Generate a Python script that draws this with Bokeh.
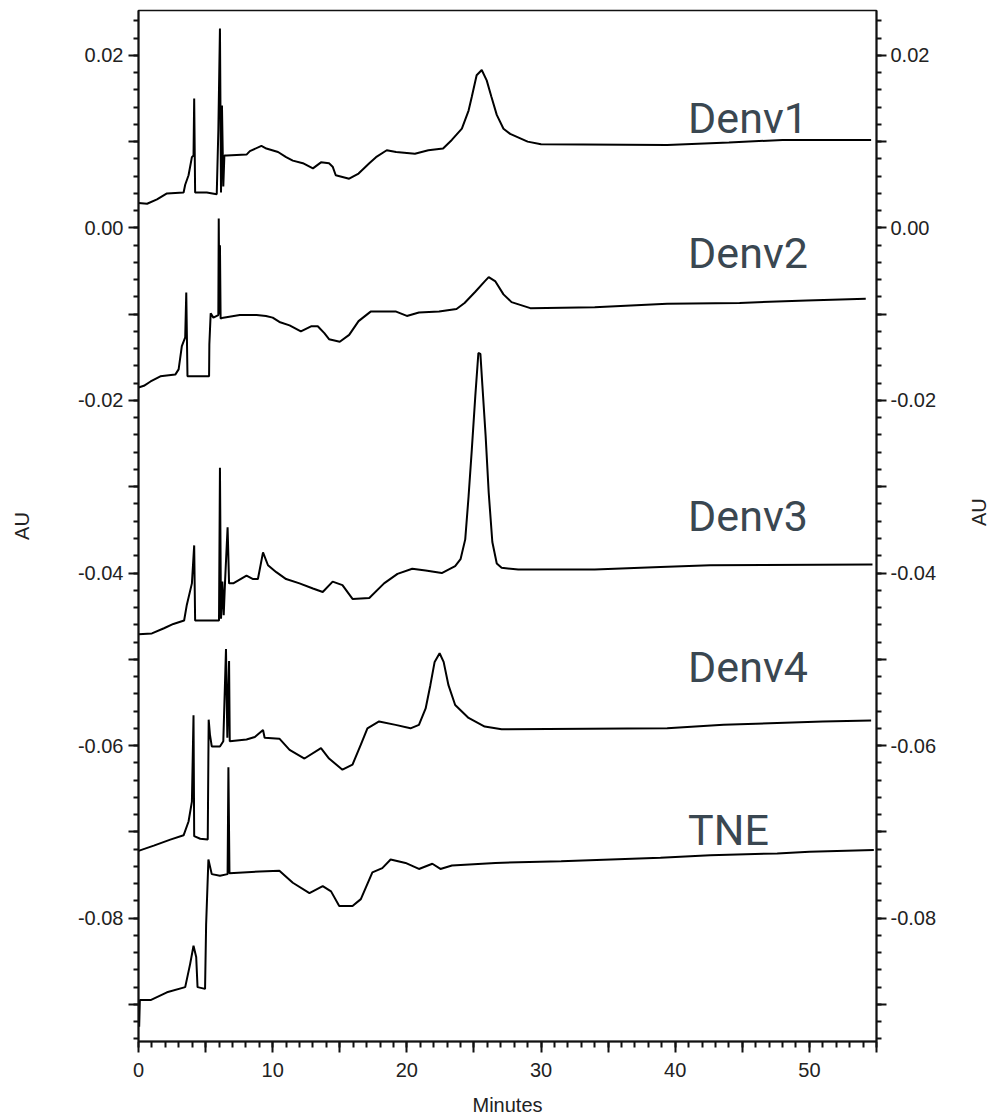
import math
from bokeh.plotting import figure
from bokeh.models import Range1d, LinearAxis, FixedTicker
from bokeh.core.properties import value
from bokeh.embed import file_html
from bokeh.resources import INLINE

# ---------------- data ----------------
sample_names = ["Denv1", "Denv2", "Denv3", "Denv4", "TNE"]

denv1_min = [0, 0.64, 1.38, 2.12, 3.36, 3.48, 3.73, 3.98, 4.1, 4.15, 4.22, 5.09, 5.83,
             5.95, 6.07, 6.15, 6.22, 6.32, 6.4, 6.57, 8.05, 8.3, 9.16, 9.53, 10.4, 11.0,
             11.5, 12.25, 13.0, 13.6, 14.2, 14.47, 14.7, 15.7, 16.4, 17.2, 17.7, 18.5,
             19.2, 20.6, 21.6, 22.7, 23.35, 24.1, 24.6, 24.84, 25.2, 25.58, 25.95, 26.3,
             26.7, 27.2, 27.7, 29.0, 30.0, 39.4, 44.0, 48.0, 54.6]
denv1_au = [0.0029, 0.0028, 0.0033, 0.0040, 0.0041, 0.0050, 0.0061, 0.0082, 0.0084, 0.0150,
            0.0041, 0.0041, 0.0039, 0.0113, 0.0231, 0.0041, 0.0142, 0.0048, 0.0084, 0.0084,
            0.0085, 0.0089, 0.0095, 0.0092, 0.0088, 0.0082, 0.0078, 0.0075, 0.0069, 0.0076,
            0.0075, 0.0071, 0.0061, 0.0057, 0.0063, 0.0075, 0.0082, 0.0090, 0.0088, 0.0086,
            0.0090, 0.0092, 0.0102, 0.0115, 0.0136, 0.0152, 0.0177, 0.0183, 0.0171, 0.0152,
            0.0131, 0.0115, 0.0109, 0.0100, 0.0097, 0.0096, 0.0099, 0.0102, 0.0102]

denv2_min = [0, 0.4, 0.9, 1.63, 2.74, 2.99, 3.23, 3.48, 3.56, 3.65, 4.6, 5.26, 5.28, 5.38,
             5.58, 5.95, 5.98, 6.03, 6.07, 6.12, 6.32, 7.55, 8.8, 9.5, 10.0, 10.5, 11.26,
             12.1, 12.86, 13.36, 13.85, 14.2, 15.0, 15.7, 16.4, 17.3, 19.2, 20.0, 20.9,
             22.4, 23.7, 24.3, 25.1, 25.8, 26.1, 26.6, 27.2, 27.8, 29.2, 34.0, 39.4, 44.8,
             49.8, 54.2]
denv2_au = [-0.0185, -0.0183, -0.0178, -0.0172, -0.0170, -0.0164, -0.0137, -0.0127, -0.0075,
            -0.0172, -0.0172, -0.0172, -0.0135, -0.0099, -0.0104, -0.0101, 0.0011, -0.0100,
            -0.0020, -0.0105, -0.0104, -0.0101, -0.0101, -0.0102, -0.0104, -0.0109, -0.0113,
            -0.0120, -0.0114, -0.0114, -0.0122, -0.0129, -0.0132, -0.0124, -0.0108, -0.0097,
            -0.0097, -0.0102, -0.0098, -0.0097, -0.0094, -0.0087, -0.0074, -0.0062, -0.0057,
            -0.0062, -0.0077, -0.0086, -0.0093, -0.0092, -0.0088, -0.0087, -0.0084, -0.0082]

denv3_min = [0, 1.0, 1.9, 2.6, 3.4, 3.6, 3.98, 4.15, 4.22, 4.6, 6.0, 6.07, 6.15, 6.25, 6.35,
             6.45, 6.64, 6.75, 7.06, 8.05, 8.54, 8.9, 9.28, 9.65, 10.27, 11.0, 12.0, 13.0,
             13.73, 14.47, 15.2, 15.95, 17.2, 18.3, 19.3, 20.4, 21.4, 22.6, 23.6, 24.0,
             24.35, 24.6, 24.84, 25.1, 25.33, 25.48, 25.63, 25.87, 26.1, 26.37, 26.7, 27.06,
             28.3, 34.0, 38.9, 42.6, 54.7]
denv3_au = [-0.0471, -0.0470, -0.0464, -0.0459, -0.0455, -0.0437, -0.0412, -0.0368, -0.0455,
            -0.0455, -0.0455, -0.0278, -0.0453, -0.0410, -0.0449, -0.0410, -0.0347, -0.0412,
            -0.0412, -0.0403, -0.0407, -0.0407, -0.0376, -0.0391, -0.0399, -0.0407, -0.0412,
            -0.0418, -0.0422, -0.0410, -0.0414, -0.0430, -0.0429, -0.0412, -0.0401, -0.0395,
            -0.0397, -0.0400, -0.0392, -0.0384, -0.0361, -0.0311, -0.0257, -0.0195, -0.0145,
            -0.0146, -0.0183, -0.0241, -0.0307, -0.0364, -0.0389, -0.0394, -0.0396, -0.0396,
            -0.0393, -0.0391, -0.0390]

denv4_min = [0, 1.14, 2.37, 3.36, 3.73, 3.98, 4.1, 4.15, 4.6, 5.16, 5.23, 5.33, 5.46, 6.07,
             6.32, 6.52, 6.62, 6.75, 6.8, 8.05, 8.67, 9.28, 9.4, 10.5, 11.26, 12.37, 13.6,
             14.2, 15.2, 15.95, 16.57, 17.06, 17.93, 19.16, 20.27, 20.9, 21.4, 21.75, 22.07,
             22.44, 22.74, 23.1, 23.6, 24.6, 25.8, 27.06, 39.4, 43.6, 51.0, 54.6]
denv4_au = [-0.0722, -0.0716, -0.0709, -0.0704, -0.0688, -0.0665, -0.0565, -0.0705, -0.0708,
            -0.0709, -0.0570, -0.0588, -0.0601, -0.0601, -0.0595, -0.0488, -0.0591, -0.0502,
            -0.0595, -0.0593, -0.0590, -0.0582, -0.0591, -0.0592, -0.0605, -0.0615, -0.0603,
            -0.0615, -0.0628, -0.0622, -0.0599, -0.0580, -0.0572, -0.0576, -0.0580, -0.0576,
            -0.0557, -0.0530, -0.0503, -0.0493, -0.0503, -0.0530, -0.0553, -0.0568, -0.0578,
            -0.0581, -0.0580, -0.0576, -0.0572, -0.0571]

tne_min = [0, 0.05, 0.1, 0.9, 2.12, 3.48, 3.85, 4.1, 4.3, 4.4, 4.96, 5.04, 5.21, 5.46, 6.07,
           6.64, 6.7, 6.78, 9.04, 10.5, 11.5, 12.74, 13.73, 14.35, 14.96, 15.95, 16.57,
           17.43, 18.17, 18.79, 19.9, 20.9, 21.9, 22.5, 23.36, 26.6, 31.5, 38.9, 42.6, 47.6,
           50.0, 54.8]
tne_au = [-0.0903, -0.0926, -0.0895, -0.0895, -0.0886, -0.0880, -0.0853, -0.0832, -0.0845,
          -0.0880, -0.0882, -0.0807, -0.0732, -0.0749, -0.0751, -0.0749, -0.0625, -0.0748,
          -0.0746, -0.0745, -0.0759, -0.0771, -0.0763, -0.0769, -0.0786, -0.0786, -0.0778,
          -0.0747, -0.0742, -0.0732, -0.0736, -0.0743, -0.0737, -0.0743, -0.0739, -0.0736,
          -0.0734, -0.0730, -0.0727, -0.0725, -0.0723, -0.0721]

x_major_ticks = [0, 5, 10, 15, 20, 25, 30, 35, 40, 45, 50, 55]
x_tick_labels = ["0", "", "10", "", "20", "", "30", "", "40", "", "50", ""]
x_minor_ticks = list(range(0, 56))
y_major_ticks = [-0.09, -0.08, -0.07, -0.06, -0.05, -0.04, -0.03, -0.02, -0.01, 0.0, 0.01, 0.02]
y_tick_labels = ["", "-0.08", "", "-0.06", "", "-0.04", "", "-0.02", "", "0.00", "", "0.02"]
y_minor_ticks = [round(-0.094 + 0.002 * i, 3) for i in range(60)]

# ---------------- figure ----------------
TICK_FONT = "Liberation Sans"
p = figure(width=1004, height=1118, output_backend="svg", toolbar_location=None,
           x_range=Range1d(0, 55), y_range=Range1d(-0.0943, 0.0252),
           min_border_left=138, min_border_right=125, min_border_top=10, min_border_bottom=73)
p.xgrid.visible = False
p.ygrid.visible = False
p.outline_line_color = "#111111"
p.outline_line_width = 1.5
p.background_fill_color = "white"
p.border_fill_color = "white"

series = [(denv1_min, denv1_au), (denv2_min, denv2_au), (denv3_min, denv3_au),
          (denv4_min, denv4_au), (tne_min, tne_au)]
for xs, ys in series:
    p.line(xs, ys, line_color="black", line_width=2)

# sample labels
label_x = [40.96] * 5
label_y = [0.01272, -0.00289, -0.03341, -0.05087, -0.06983]
p.text(x=label_x, y=label_y, text=sample_names, text_font=value("Roboto"),
       text_font_size="43px", text_color="#3a4751", text_align="left",
       text_baseline="alphabetic")


def style_axis(ax, major, labels, minor):
    ax.ticker = FixedTicker(ticks=major, minor_ticks=minor)
    ax.major_label_overrides = {t: l for t, l in zip(major, labels)}
    ax.axis_line_width = 2
    ax.axis_line_color = "#111111"
    ax.major_tick_line_width = 2
    ax.minor_tick_line_width = 2
    ax.major_tick_line_color = "#111111"
    ax.minor_tick_line_color = "#111111"
    ax.major_tick_in = 0
    ax.minor_tick_in = 0
    ax.major_tick_out = 10
    ax.minor_tick_out = 5
    ax.major_label_text_font = TICK_FONT
    ax.major_label_text_font_size = "20px"
    ax.major_label_text_color = "#222222"
    ax.axis_label_text_font = TICK_FONT
    ax.axis_label_text_font_size = "20px"
    ax.axis_label_text_font_style = "normal"
    ax.axis_label_text_color = "#222222"


style_axis(p.xaxis[0], x_major_ticks, x_tick_labels, x_minor_ticks)
p.xaxis.axis_label = "Minutes"
p.xaxis.major_tick_out = 11
p.xaxis.minor_tick_out = 6
p.xaxis.major_label_standoff = 10
p.xaxis.axis_label_standoff = 14

style_axis(p.yaxis[0], y_major_ticks, y_tick_labels, y_minor_ticks)
p.yaxis.axis_label = "AU"
p.yaxis.major_label_standoff = 5
p.yaxis.axis_label_standoff = 42

right = LinearAxis(axis_label="AU")
style_axis(right, y_major_ticks, y_tick_labels, y_minor_ticks)
right.major_label_standoff = 4
right.axis_label_standoff = 40
right.axis_label_orientation = math.pi / 2
p.add_layout(right, "right")

open("out.html", "w").write(file_html(p, INLINE))
